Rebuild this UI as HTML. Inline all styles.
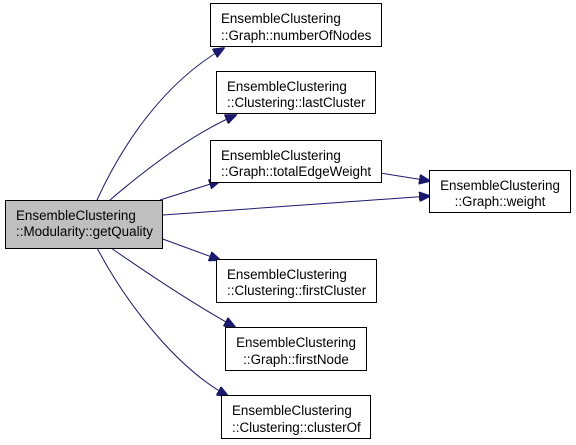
<!DOCTYPE html>
<html><head><meta charset="utf-8"><style>
html,body{margin:0;padding:0;background:#fff;}
svg{display:block;}
text{font-family:"Liberation Sans",sans-serif;font-size:13.4px;fill:#000;}
</style></head><body>
<svg width="576" height="445" viewBox="0 0 576 445" xmlns="http://www.w3.org/2000/svg">
<defs>
<marker id="a" markerWidth="12" markerHeight="10" refX="11" refY="5" orient="auto" markerUnits="userSpaceOnUse">
<path d="M0,0 L12,5 L0,10 Z" fill="#191970" stroke="#191970"/>
</marker>
</defs>
<g fill="none" stroke="#191970" stroke-width="1" marker-end="url(#a)">
<path d="M97,200 C120,150 160,85 224,48"/>
<path d="M110,200 C145,170 190,135 236,115"/>
<path d="M160,200 L220,181"/>
<path d="M163,215 L430,196"/>
<path d="M380,173 L430,181"/>
<path d="M160,238 L220,260"/>
<path d="M111,248 C150,275 195,305 235,327"/>
<path d="M97,248 C130,310 180,370 228,396"/>
</g>
<g stroke="#000" stroke-width="1">
<rect x="5.5" y="200.5" width="157" height="48" fill="#bfbfbf"/>
<rect x="210.5" y="3.5" width="171" height="43" fill="#fff"/>
<rect x="216.5" y="71.5" width="159" height="42" fill="#fff"/>
<rect x="210.5" y="140.5" width="171" height="42" fill="#fff"/>
<rect x="429.5" y="170.5" width="141" height="42" fill="#fff"/>
<rect x="216.5" y="259.5" width="160" height="43" fill="#fff"/>
<rect x="225.5" y="327.5" width="141" height="43" fill="#fff"/>
<rect x="221.5" y="395.5" width="149" height="43" fill="#fff"/>
</g>
<text x="16" y="220">EnsembleClustering</text>
<text x="16" y="236">::Modularity::getQuality</text>
<text x="221" y="23">EnsembleClustering</text>
<text x="221" y="40">::Graph::numberOfNodes</text>
<text x="227" y="91">EnsembleClustering</text>
<text x="227" y="107">::Clustering::lastCluster</text>
<text x="221" y="160">EnsembleClustering</text>
<text x="221" y="176">::Graph::totalEdgeWeight</text>
<text x="500" y="190" text-anchor="middle">EnsembleClustering</text>
<text x="500" y="206" text-anchor="middle">::Graph::weight</text>
<text x="227" y="279">EnsembleClustering</text>
<text x="227" y="295">::Clustering::firstCluster</text>
<text x="296" y="347" text-anchor="middle">EnsembleClustering</text>
<text x="296" y="364" text-anchor="middle">::Graph::firstNode</text>
<text x="232" y="415">EnsembleClustering</text>
<text x="232" y="432">::Clustering::clusterOf</text>
</svg>
</body></html>
